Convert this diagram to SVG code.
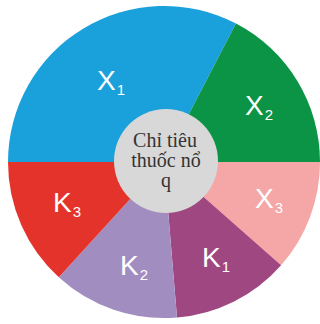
<svg xmlns="http://www.w3.org/2000/svg" width="320" height="324" viewBox="0 0 320 324">
  <style>
    .lbl { font-family: "Liberation Sans", Arial, sans-serif; font-size: 28px; fill: #ffffff; }
    .sub { font-size: 15px; }
    .core { font-family: "Liberation Serif", "Times New Roman", serif; font-size: 20px; fill: #333333; text-anchor: middle; }
  </style>
  <rect width="320" height="324" fill="#ffffff"/>

  <!-- outer ring sectors, centre (164,162), radius 156 -->
  <g id="sector-x1">
    <path d="M164,162 L8,162 A156,156 0 0 1 236,23.6 Z" fill="#1aa0da"/>
    <text class="lbl" x="97" y="90">X<tspan class="sub" dx="1" dy="5">1</tspan></text>
  </g>
  <g id="sector-x2">
    <path d="M164,162 L236,23.6 A156,156 0 0 1 320,162 Z" fill="#0b9346"/>
    <text class="lbl" x="245" y="115">X<tspan class="sub" dx="1" dy="5">2</tspan></text>
  </g>
  <g id="sector-x3">
    <path d="M164,162 L320,162 A156,156 0 0 1 281.1,265.2 Z" fill="#f5a6a6"/>
    <text class="lbl" x="255" y="208">X<tspan class="sub" dx="1" dy="5">3</tspan></text>
  </g>
  <g id="sector-k1">
    <path d="M164,162 L281.1,265.2 A156,156 0 0 1 177,317.5 Z" fill="#9f4780"/>
    <text class="lbl" x="202" y="267">K<tspan class="sub" dx="1" dy="5">1</tspan></text>
  </g>
  <g id="sector-k2">
    <path d="M164,162 L177,317.5 A156,156 0 0 1 58.8,277.2 Z" fill="#a28dc1"/>
    <text class="lbl" x="120" y="275">K<tspan class="sub" dx="1" dy="5">2</tspan></text>
  </g>
  <g id="sector-k3">
    <path d="M164,162 L58.8,277.2 A156,156 0 0 1 8,162 Z" fill="#e4332b"/>
    <text class="lbl" x="53" y="212">K<tspan class="sub" dx="1" dy="5">3</tspan></text>
  </g>

  <!-- central hub -->
  <g id="hub">
    <circle cx="166" cy="161" r="52" fill="#d8d8d8"/>
    <text class="core" x="165" y="147">Chỉ tiêu</text>
    <text class="core" x="166" y="167">thuốc nổ</text>
    <text class="core" x="166" y="187">q</text>
  </g>

  <g id="connectors"/>
</svg>
